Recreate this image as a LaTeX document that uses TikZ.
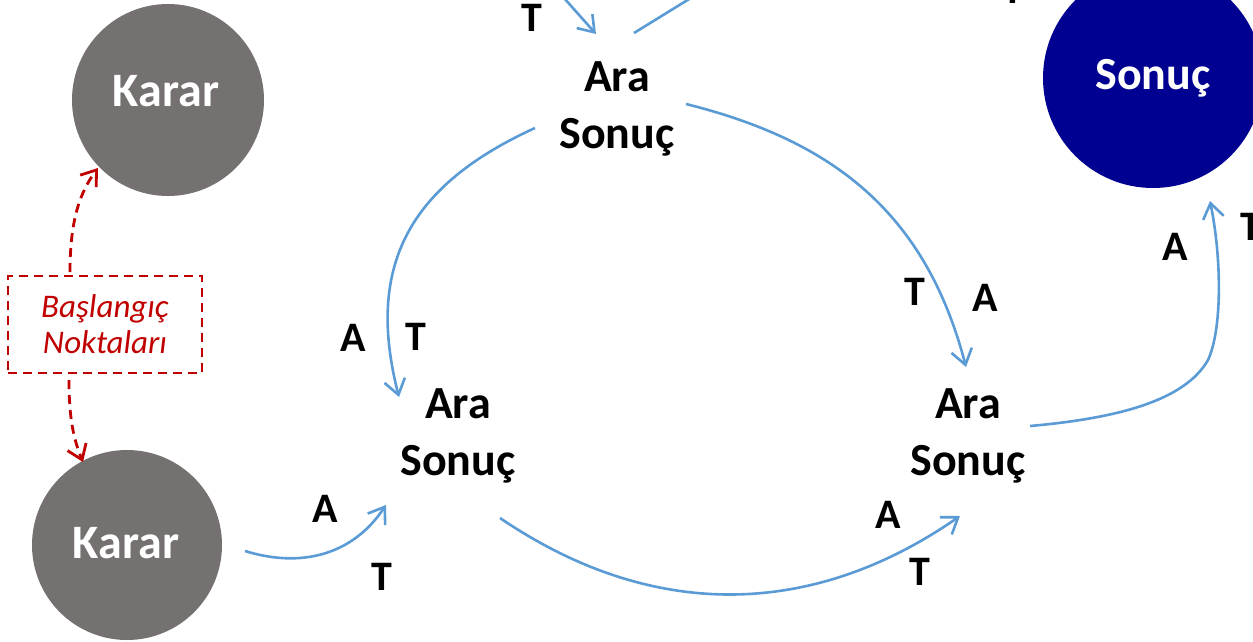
\documentclass[tikz,border=0pt]{standalone}
\usepackage{fontspec}
\setmainfont{Carlito}
\usetikzlibrary{arrows.meta}
\definecolor{kgray}{RGB}{118,113,113}
\definecolor{sblue}{RGB}{0,0,145}
\definecolor{lblue}{RGB}{91,155,213}
\definecolor{dred}{RGB}{192,0,0}
\begin{document}
\begin{tikzpicture}[x=1pt,y=-1pt,
  circ/.style={circle,inner sep=0pt,draw=none},
  big/.style={font=\fontsize{46}{57}\selectfont\bfseries, align=center, inner sep=0pt},
  wbig/.style={big,text=white},
  lab/.style={font=\fontsize{42}{48}\selectfont\bfseries, inner sep=0pt},
  plainline/.style={draw=lblue, line width=2.6pt},
  conn/.style={plainline, -{Straight Barb[length=15pt,width=21pt]}},
  redarrow/.style={draw=dred, line width=2.8pt, dash pattern=on 9pt off 6pt, -{Straight Barb[length=14pt,width=20pt]}},
  startbox/.style={draw=dred, dash pattern=on 9pt off 6pt, line width=2.2pt, minimum width=194pt, minimum height=97pt, inner sep=0pt, font=\fontsize{33}{36}\selectfont\itshape, text=dred, align=center},
]
\useasboundingbox (0,0) rectangle (1253,641);
\clip (0,0) rectangle (1253,641);
% circles
\node[circ, fill=kgray, minimum size=192pt] (karar1) at (168,100) {};
\node[wbig, font=\fontsize{48}{52}\selectfont\bfseries] (kararT1) at (166,91) {Karar};
\node[circ, fill=kgray, minimum size=190pt] (karar2) at (127,545) {};
\node[wbig, font=\fontsize{48}{52}\selectfont\bfseries] (kararT2) at (126,543) {Karar};
\node[circ, fill=sblue, minimum size=220pt] (sonuc) at (1153,78) {};
\node[wbig] (sonucT) at (1153,78) {Sonuç};
% intermediate results
\node[big] (ara1) at (617,109) {Ara\\Sonuç};
\node[big] (ara2) at (458,436) {Ara\\Sonuç};
\node[big] (ara3) at (968,436) {Ara\\Sonuç};
% start box
\node[startbox] (start) at (105,324.5) {Başlangıç\\Noktaları};
% coordinates
\coordinate (r1s) at (70,272);
\coordinate (r1e) at (98,168);
\coordinate (r2s) at (69,380);
\coordinate (r2e) at (83,462);
\coordinate (in1) at (548,-20);
\coordinate (a1tip) at (596,34);
\coordinate (a1o) at (634,33);
\coordinate (out1) at (720,-20);
\coordinate (a1sw) at (535,128);
\coordinate (a2tip) at (399,397);
\coordinate (a1e) at (686,104);
\coordinate (a3tip) at (966,367);
\coordinate (k2e) at (245,551);
\coordinate (a2tipb) at (386,505);
\coordinate (a2e) at (500,518);
\coordinate (a3tipb) at (960,516);
\coordinate (a3e) at (1030,426);
\coordinate (sontip) at (1210,201);
% red dashed arrows
\draw[redarrow] (r1s) .. controls (70,220) and (80,192) .. (r1e);
\draw[redarrow] (r2s) .. controls (69,420) and (74,440) .. (r2e);
% blue connectors
\draw[conn] (in1) -- (a1tip);
\draw[plainline] (a1o) -- (out1);
\draw[conn] (a1sw) .. controls (410,185) and (365,265) .. (a2tip);
\draw[conn] (a1e) .. controls (830,140) and (925,210) .. (a3tip);
\draw[conn] (k2e) .. controls (300,568) and (352,556) .. (a2tipb);
\draw[conn] (a2e) .. controls (650,620) and (810,620) .. (a3tipb);
\draw[conn] (a3e) .. controls (1120,418) and (1185,400) .. (1208,360) .. controls (1222,330) and (1222,260) .. (sontip);
% labels
\node[lab] (lT0) at (532,18) {T};
\node[lab] (lTcut) at (1013,-10) {T};
\node[lab] (lA1) at (353,338) {A};
\node[lab] (lT1) at (416,337) {T};
\node[lab] (lT2) at (915,292) {T};
\node[lab] (lA2) at (985,298) {A};
\node[lab] (lA3) at (1175,247) {A};
\node[lab] (lT3) at (1251,227) {T};
\node[lab] (lA4) at (325,509) {A};
\node[lab] (lT4) at (382,577) {T};
\node[lab] (lA5) at (888,515) {A};
\node[lab] (lT5) at (920,572) {T};
\end{tikzpicture}
\end{document}
